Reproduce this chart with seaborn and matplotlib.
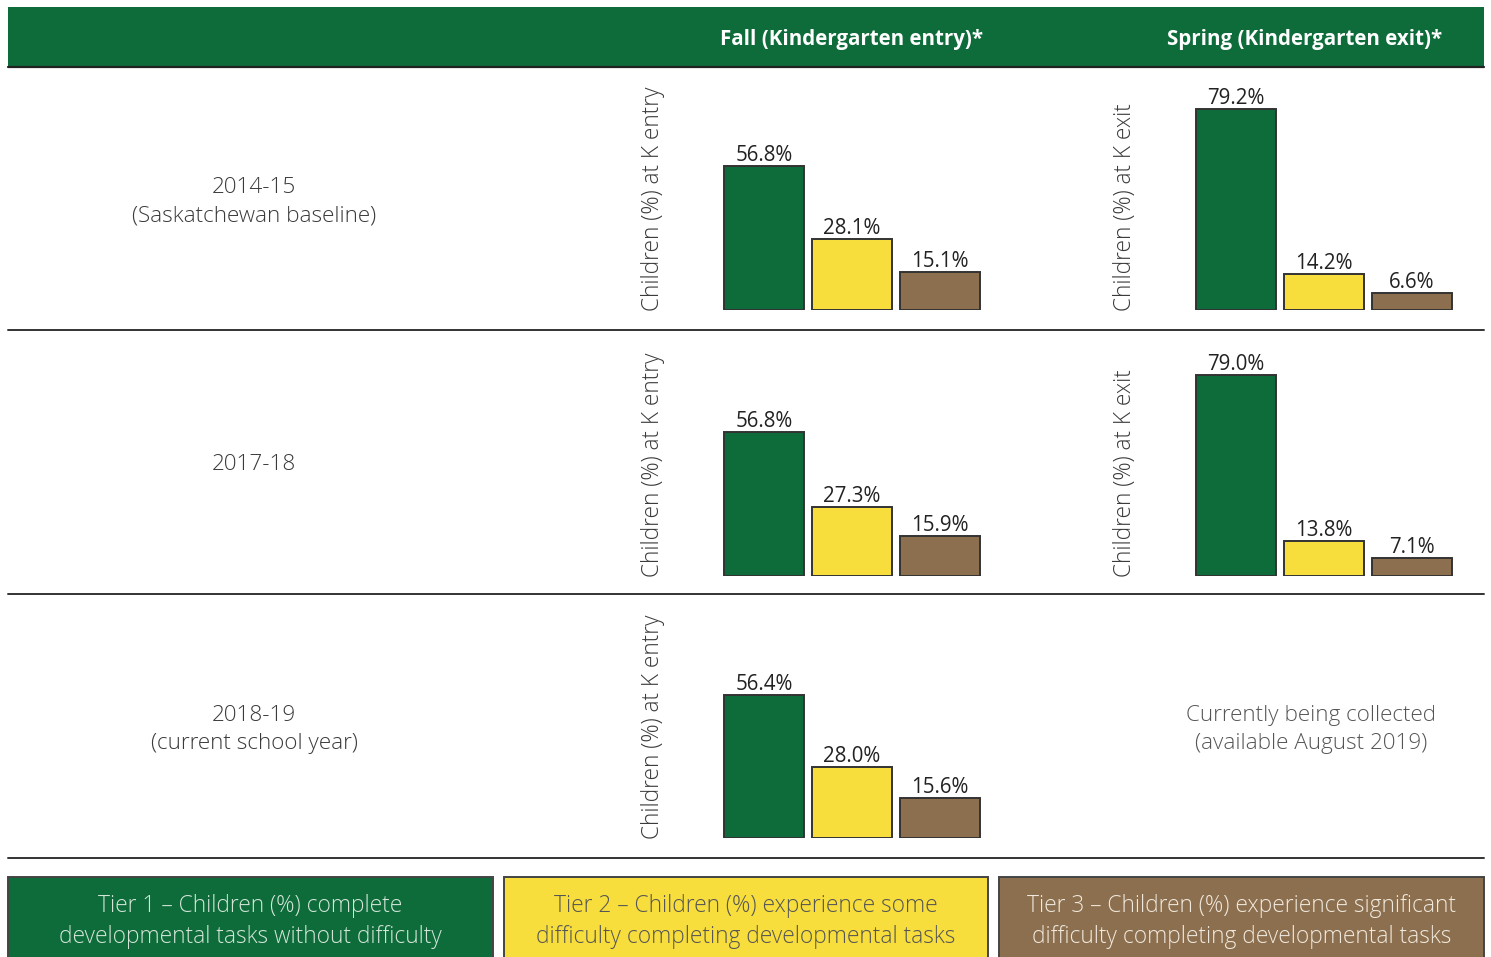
import matplotlib
matplotlib.use("Agg")
import matplotlib.pyplot as plt
from matplotlib.patches import Rectangle
import seaborn as sns

# ---- data -------------------------------------------------------------
tiers = ["Tier 1", "Tier 2", "Tier 3"]
years = ["2014-15\n(Saskatchewan baseline)", "2017-18", "2018-19\n(current school year)"]
fall_values = [
    [56.8, 28.1, 15.1],
    [56.8, 27.3, 15.9],
    [56.4, 28.0, 15.6],
]
spring_values = [
    [79.2, 14.2, 6.6],
    [79.0, 13.8, 7.1],
    None,
]
fall_title = "Fall (Kindergarten entry)*"
spring_title = "Spring (Kindergarten exit)*"
fall_ylabel = "Children (%) at K entry"
spring_ylabel = "Children (%) at K exit"
pending_note = "Currently being collected\n(available August 2019)"
legend_texts = [
    "Tier 1 – Children (%) complete\ndevelopmental tasks without difficulty",
    "Tier 2 – Children (%) experience some\ndifficulty completing developmental tasks",
    "Tier 3 – Children (%) experience significant\ndifficulty completing developmental tasks",
]

# ---- style ------------------------------------------------------------
GREEN = "#0e6b3a"
YELLOW = "#f8de3c"
BROWN = "#8b6f4e"
EDGE = "#333333"
TEXT = "#3a3a3a"
tier_colors = [GREEN, YELLOW, BROWN]
legend_text_colors = ["#d3e6d8", "#555555", "#f1e9de"]

sns.set_style("white")
plt.rcParams["font.family"] = ["Open Sans", "DejaVu Sans"]

W, H = 1491, 957
fig = plt.figure(figsize=(W / 100, H / 100), dpi=100)

# full-figure canvas in pixel units for the table frame
bg = fig.add_axes([0, 0, 1, 1], zorder=0)
bg.set_xlim(0, W)
bg.set_ylim(H, 0)
bg.axis("off")

# header band
bg.add_patch(Rectangle((8, 7), 1476, 60, facecolor=GREEN, edgecolor="none"))
bg.plot([8, 1484], [67, 67], color="#222222", lw=1.6)
bg.text(851, 39.5, fall_title, ha="center", va="center", color="white",
        fontsize=14.8, fontweight="bold")
bg.text(1305, 39.5, spring_title, ha="center", va="center", color="white",
        fontsize=14.8, fontweight="bold")

# row separators
for y in (330, 594, 858):
    bg.plot([8, 1484], [y, y], color="#333333", lw=1.4)

# row labels
row_centers = [201.5, 464.5, 729.5]
for label, yc in zip(years, row_centers):
    bg.text(254, yc, label, ha="center", va="center", color=TEXT,
            fontsize=16.2, fontweight="light", linespacing=1.48)

bg.text(1311, 729.5, pending_note, ha="center", va="center", color="#555555",
        fontsize=16.2, fontweight="light", linespacing=1.48)

# legend boxes along the bottom
legend_boxes = [(8, 493), (504, 988), (999, 1484)]
for (x0, x1), fc, tc, txt in zip(legend_boxes, tier_colors, legend_text_colors, legend_texts):
    bg.add_patch(Rectangle((x0, 877), x1 - x0, 90, facecolor=fc,
                           edgecolor="#444444", lw=1.4))
    bg.text((x0 + x1) / 2, 921.5, txt, ha="center", va="center", color=tc,
            fontsize=16.4, fontweight="light", linespacing=1.38)

# ---- bar panels -------------------------------------------------------
PX_PER_PCT = 2.54
YMAX = 90
SLOT = 88  # pixels per category slot
baselines = [310, 576, 838]
fall_left = 720
spring_left = 1192


def add_panel(left_px, baseline_px, values, ylabel):
    h = YMAX * PX_PER_PCT
    w = 3 * SLOT
    ax = fig.add_axes([left_px / W, 1 - baseline_px / H, w / W, h / H], zorder=2)
    ax.patch.set_alpha(0)
    sns.barplot(x=tiers, y=values, hue=tiers, palette=tier_colors,
                saturation=1, width=80 / SLOT, edgecolor=EDGE, linewidth=1.4,
                legend=False, ax=ax)
    for cont in ax.containers:
        ax.bar_label(cont, fmt="%.1f%%", padding=0, fontsize=14.8, color="#222222")
    ax.set_xlim(-0.5, 2.5)
    ax.set_ylim(0, YMAX)
    ax.set_xticks([])
    ax.set_yticks([])
    ax.set_xlabel("")
    ax.set_ylabel(ylabel, loc="bottom", fontsize=16.3, color=TEXT,
                  fontweight="light")
    ax.yaxis.set_label_coords(-0.21, -0.005)
    sns.despine(ax=ax, left=True, bottom=True)
    return ax


for i, base in enumerate(baselines):
    add_panel(fall_left, base, fall_values[i], fall_ylabel)
    if spring_values[i] is not None:
        add_panel(spring_left, base, spring_values[i], spring_ylabel)

fig.savefig("out.png", dpi=100)
